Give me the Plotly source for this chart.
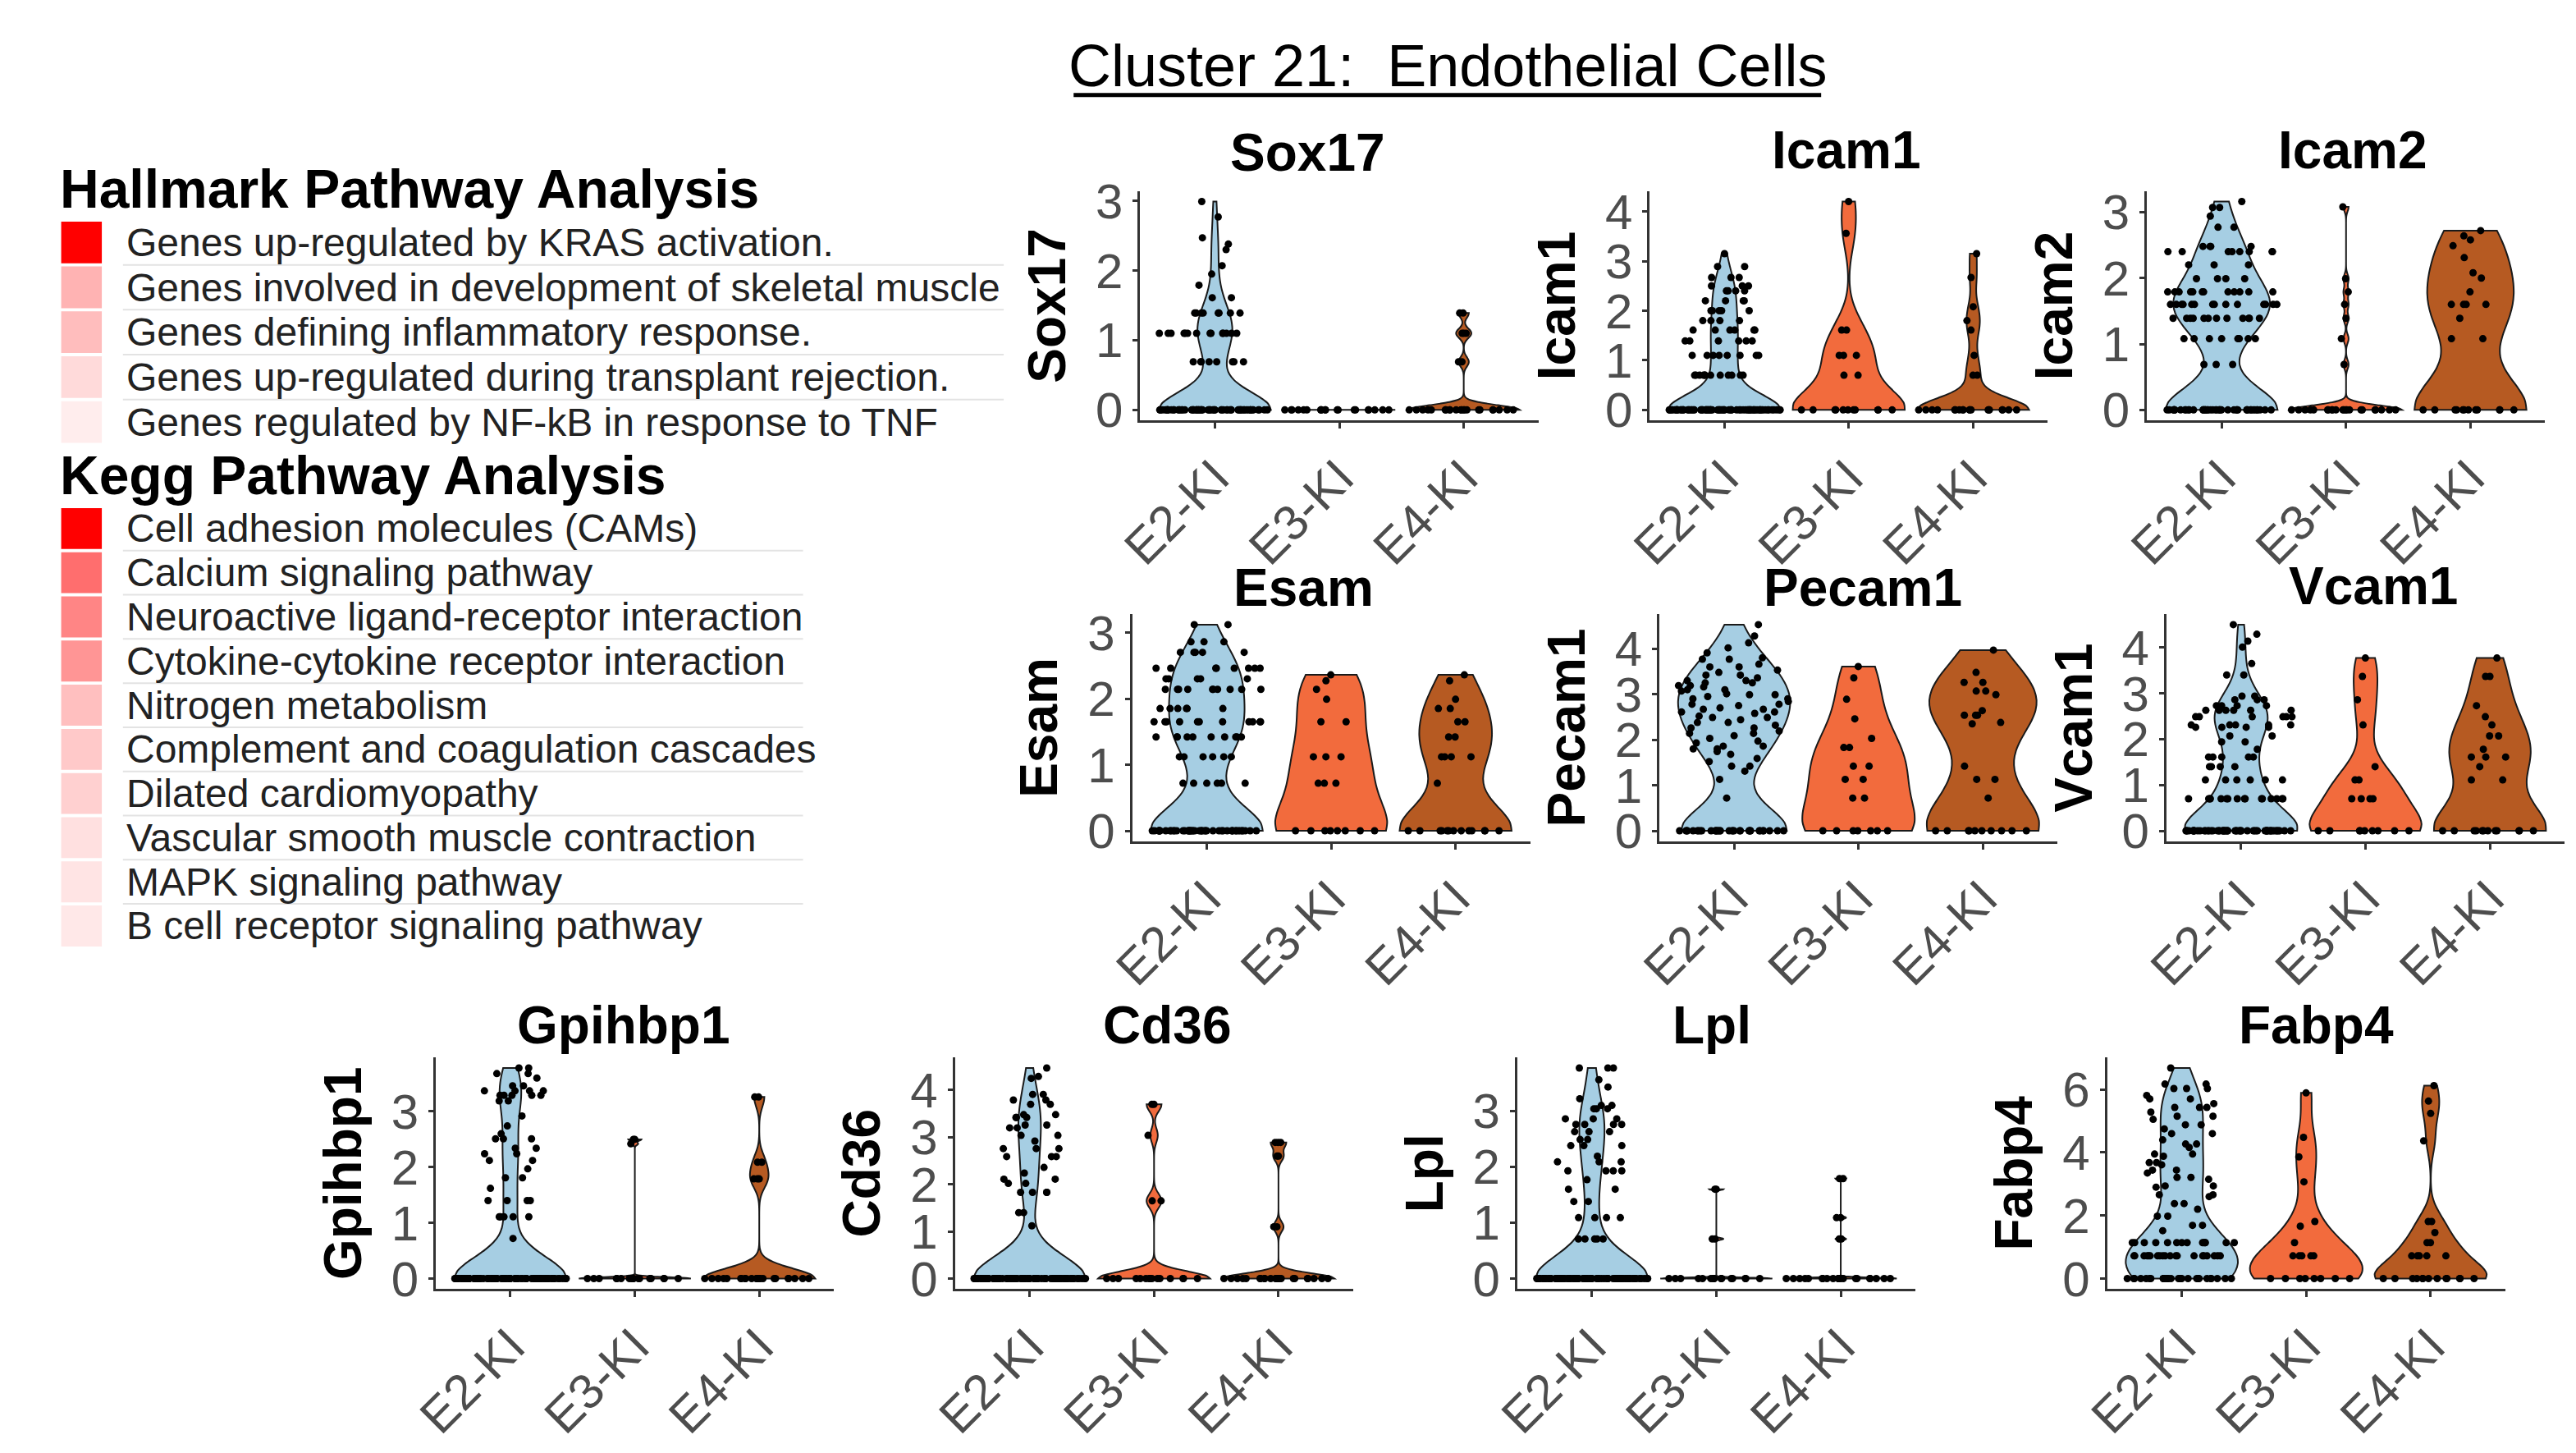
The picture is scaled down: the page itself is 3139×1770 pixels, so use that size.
import numpy as np
import plotly.graph_objects as go

W, H = 3139, 1770
FONT = "Liberation Sans, Arial, sans-serif"

GROUPS = ["E2-KI", "E3-KI", "E4-KI"]
GROUP_COLORS = ["#a6cee3", "#f26b3d", "#b65a22"]

# expression per cell, written as (value, number of cells)
SOX17_E2 = [(0, 68), (0.69, 8), (1.1, 14), (1.39, 8), (1.61, 2), (1.79, 1), (1.95, 1),
            (2.07, 1), (2.3, 1), (2.38, 1), (2.47, 1), (2.77, 1), (2.99, 1)]
SOX17_E3 = [(0, 20)]
SOX17_E4 = [(0, 22), (0.69, 2), (1.1, 3), (1.39, 2)]

ICAM1_E2 = [(0, 80), (0.7, 12), (1.1, 8), (1.39, 6), (1.61, 6), (1.8, 4), (2.0, 5),
            (2.2, 4), (2.4, 4), (2.5, 3), (2.67, 3), (2.89, 2), (3.15, 1)]
ICAM1_E3 = [(0, 11), (0.7, 2), (1.1, 3), (1.61, 2), (3.56, 1), (4.2, 1)]
ICAM1_E4 = [(0, 19), (0.7, 2), (1.1, 1), (1.61, 1), (1.8, 1), (2.08, 1), (2.67, 1), (3.15, 1)]

ICAM2_E2 = [(0, 46), (0.69, 3), (1.08, 8), (1.39, 12), (1.6, 14), (1.79, 12), (1.99, 4),
            (2.2, 3), (2.4, 8), (2.48, 4), (2.77, 2), (2.94, 1), (3.07, 2), (3.16, 1)]
ICAM2_E3 = [(0, 22), (0.69, 1), (1.08, 1), (1.39, 1), (1.6, 1), (1.79, 1), (1.99, 1), (3.08, 1)]
ICAM2_E4 = [(0, 12), (1.08, 2), (1.39, 1), (1.6, 4), (1.79, 1), (2.0, 1), (2.08, 1),
            (2.31, 1), (2.49, 1), (2.58, 1), (2.64, 1), (2.72, 1)]

ESAM_E2 = [(0, 48), (0.72, 6), (1.12, 6), (1.42, 10), (1.65, 11), (1.85, 6), (2.14, 10),
           (2.3, 5), (2.46, 8), (2.7, 5), (2.86, 3), (3.12, 2)]
ESAM_E3 = [(0, 8), (0.72, 3), (1.12, 3), (1.65, 2), (1.99, 1), (2.14, 1), (2.27, 1), (2.36, 1)]
ESAM_E4 = [(0, 13), (0.72, 1), (1.12, 4), (1.42, 2), (1.65, 2), (1.85, 2), (1.99, 1),
           (2.27, 1), (2.36, 1)]

PECAM1_E2 = [(0, 34), (0.72, 1), (1.13, 1), (1.31, 1), (1.42, 2), (1.52, 1), (1.59, 1),
             (1.68, 1), (1.74, 1), (1.8, 2), (1.86, 2), (1.93, 1), (1.97, 1), (2.03, 1),
             (2.09, 1), (2.14, 2), (2.19, 1), (2.26, 2), (2.32, 1), (2.38, 2), (2.44, 1),
             (2.49, 2), (2.52, 1), (2.58, 1), (2.61, 2), (2.67, 2), (2.7, 1), (2.75, 1),
             (2.78, 2), (2.84, 1), (2.9, 2), (2.95, 1), (2.99, 2), (3.01, 1), (3.07, 1),
             (3.1, 2), (3.16, 1), (3.19, 2), (3.25, 2), (3.3, 2), (3.36, 1), (3.42, 2),
             (3.48, 1), (3.53, 1), (3.6, 2), (3.66, 1), (3.77, 2), (3.8, 1), (3.91, 1),
             (4.02, 1), (4.13, 1), (4.28, 1), (4.53, 1)]
PECAM1_E3 = [(0, 7), (0.72, 2), (1.13, 2), (1.42, 2), (1.83, 2), (2.03, 1), (2.46, 1),
             (2.89, 1), (3.36, 1), (3.61, 1)]
PECAM1_E4 = [(0, 10), (0.72, 1), (1.13, 2), (1.42, 1), (2.35, 1), (2.38, 1), (2.54, 3),
             (2.64, 1), (2.99, 1), (3.07, 2), (3.26, 2), (3.48, 1), (3.97, 1)]

VCAM1_E2 = [(0, 58), (0.7, 16), (1.11, 6), (1.4, 4), (1.61, 5), (1.78, 1), (1.94, 2),
            (2.07, 2), (2.26, 4), (2.31, 5), (2.49, 6), (2.63, 6), (2.73, 4), (2.86, 3),
            (2.94, 2), (3.4, 2), (3.65, 1), (4.01, 1), (4.14, 1), (4.29, 1), (4.5, 1)]
VCAM1_E3 = [(0, 9), (0.7, 4), (1.11, 2), (1.4, 1), (2.31, 1), (2.86, 1), (3.37, 1), (3.77, 1)]
VCAM1_E4 = [(0, 12), (1.11, 2), (1.4, 1), (1.61, 3), (1.78, 1), (2.07, 2), (2.31, 1),
            (2.49, 1), (2.73, 1), (3.37, 2), (3.77, 1)]

GPIHBP1_E2 = [(0, 90), (0.72, 1), (1.11, 5), (1.4, 4), (1.62, 1), (1.81, 2), (1.97, 1),
              (2.12, 2), (2.24, 2), (2.34, 2), (2.51, 3), (2.6, 1), (2.74, 1), (2.92, 1),
              (3.19, 2), (3.29, 5), (3.37, 4), (3.46, 2), (3.6, 1), (3.68, 2), (3.78, 2)]
GPIHBP1_E3 = [(0, 17), (2.42, 1), (2.5, 2)]
GPIHBP1_E4 = [(0, 22), (1.79, 3), (2.09, 2), (3.26, 2)]

CD36_E2 = [(0, 90), (1.12, 1), (1.4, 2), (1.83, 4), (2.02, 2), (2.11, 2), (2.24, 1),
           (2.36, 1), (2.59, 3), (2.76, 3), (2.92, 1), (3.04, 2), (3.2, 2), (3.26, 2),
           (3.42, 3), (3.48, 2), (3.7, 2), (3.79, 2), (3.91, 2), (4.25, 1), (4.29, 1), (4.47, 1)]
CD36_E3 = [(0, 15), (1.65, 2), (3.04, 1), (3.7, 2)]
CD36_E4 = [(0, 22), (1.1, 2), (2.6, 2), (2.89, 3)]

LPL_E2 = [(0, 88), (0.71, 5), (1.09, 4), (1.38, 2), (1.6, 2), (1.77, 1), (1.93, 4),
          (2.09, 3), (2.19, 1), (2.38, 3), (2.49, 2), (2.63, 3), (2.76, 4), (2.86, 3),
          (3.04, 3), (3.1, 2), (3.22, 1), (3.43, 1), (3.56, 1), (3.77, 3)]
LPL_E3 = [(0, 16), (0.71, 2), (1.6, 2)]
LPL_E4 = [(0, 21), (0.71, 2), (1.09, 2), (1.79, 2)]

FABP4_E2 = [(0, 28), (0.72, 20), (1.14, 14), (1.52, 1), (1.69, 2), (1.98, 2), (2.2, 1),
            (2.38, 2), (2.6, 1), (2.66, 2), (2.9, 1), (2.94, 2), (3.15, 1), (3.21, 2),
            (3.35, 1), (3.44, 2), (3.61, 1), (3.68, 2), (3.88, 1), (3.95, 2), (4.16, 1),
            (4.27, 2), (4.4, 1), (4.6, 2), (4.75, 1), (4.88, 2), (5.05, 1), (5.15, 2),
            (5.28, 1), (5.43, 3), (5.55, 1), (5.7, 2), (5.81, 1), (6.03, 3), (6.17, 2),
            (6.68, 1)]
FABP4_E3 = [(0, 8), (0.72, 5), (1.14, 1), (1.66, 1), (1.81, 1), (3.07, 1), (3.86, 1),
            (4.48, 1), (5.89, 1)]
FABP4_E4 = [(0, 13), (0.72, 5), (1.14, 2), (1.46, 1), (1.81, 2), (4.37, 1), (5.24, 1),
            (5.63, 1), (6.12, 1)]

EXPR = {
    "Sox17": [SOX17_E2, SOX17_E3, SOX17_E4],
    "Icam1": [ICAM1_E2, ICAM1_E3, ICAM1_E4],
    "Icam2": [ICAM2_E2, ICAM2_E3, ICAM2_E4],
    "Esam": [ESAM_E2, ESAM_E3, ESAM_E4],
    "Pecam1": [PECAM1_E2, PECAM1_E3, PECAM1_E4],
    "Vcam1": [VCAM1_E2, VCAM1_E3, VCAM1_E4],
    "Gpihbp1": [GPIHBP1_E2, GPIHBP1_E3, GPIHBP1_E4],
    "Cd36": [CD36_E2, CD36_E3, CD36_E4],
    "Lpl": [LPL_E2, LPL_E3, LPL_E4],
    "Fabp4": [FABP4_E2, FABP4_E3, FABP4_E4],
}

HALLMARK_TERMS = [
    "Genes up-regulated by KRAS activation.",
    "Genes involved in development of skeletal muscle",
    "Genes defining inflammatory response.",
    "Genes up-regulated during transplant rejection.",
    "Genes regulated by NF-kB in response to TNF",
]
HALLMARK_COLORS = ["#ff0000", "#ffb3b3", "#ffbdbd", "#ffdada", "#ffeded"]

KEGG_TERMS = [
    "Cell adhesion molecules (CAMs)",
    "Calcium signaling pathway",
    "Neuroactive ligand-receptor interaction",
    "Cytokine-cytokine receptor interaction",
    "Nitrogen metabolism",
    "Complement and coagulation cascades",
    "Dilated cardiomyopathy",
    "Vascular smooth muscle contraction",
    "MAPK signaling pathway",
    "B cell receptor signaling pathway",
]
KEGG_COLORS = ["#ff0000", "#ff6e6e", "#ff8585", "#ff9595", "#ffbfbf",
               "#ffc9c9", "#ffd0d0", "#ffe0e0", "#ffe4e4", "#ffe8e8"]

# panel placement in pixels: gene, axis left, axis top, axis bottom, title centre x, title centre y, y tick step
PANELS = [
    ("Sox17", 1372, 217, 503, 1578, 169, 1),
    ("Icam1", 1999, 217, 503, 2241, 166, 1),
    ("Icam2", 2611, 217, 503, 2864, 166, 1),
    ("Esam", 1362, 745, 1028, 1573, 712, 1),
    ("Pecam1", 2011, 745, 1028, 2261, 712, 1),
    ("Vcam1", 2635, 745, 1028, 2890, 710, 1),
    ("Gpihbp1", 505, 1298, 1587, 736, 1258, 1),
    ("Cd36", 1144, 1298, 1587, 1405, 1258, 1),
    ("Lpl", 1836, 1298, 1587, 2076, 1258, 1),
    ("Fabp4", 2562, 1298, 1587, 2819, 1258, 2),
]
PW = 490


def px(x):
    return x / W


def py(y):
    return 1 - y / H


def expand(pairs):
    return np.repeat([v for v, c in pairs], [c for v, c in pairs])


def nrd0(vals):
    # R's default bandwidth; None lets plotly fall back to its own rule
    q1, q3 = np.percentile(vals, [25, 75])
    if q3 - q1 <= 0:
        return None
    lo = min(np.std(vals, ddof=1), (q3 - q1) / 1.34)
    return 0.9 * lo * len(vals) ** -0.2


fig = go.Figure()
layout = {}
tickfont = dict(family=FONT, size=60, color="#4d4d4d")

for i, (gene, left, top, bottom, tx, ty, step) in enumerate(PANELS):
    n = "" if i == 0 else str(i + 1)
    ymax = max(max(v for v, c in g) for g in EXPR[gene])
    for grp, pairs, col in zip(GROUPS, EXPR[gene], GROUP_COLORS):
        vals = expand(pairs)
        fig.add_trace(go.Violin(
            x=[grp] * len(vals), y=vals, xaxis="x" + n, yaxis="y" + n,
            fillcolor=col, opacity=1, line=dict(color="#1a1a1a", width=2),
            points="all", pointpos=0, jitter=1,
            marker=dict(color="black", size=9, line=dict(width=0)),
            spanmode="hard", scalemode="width", width=0.9,
            bandwidth=nrd0(vals), hoverinfo="skip", showlegend=False,
        ))
    layout["xaxis" + n] = dict(
        domain=[px(left), px(left + PW)], anchor="y" + n,
        type="category", categoryorder="array", categoryarray=GROUPS,
        range=[-0.6, 2.6], showline=True, linecolor="#333333", linewidth=3,
        ticks="outside", ticklen=7, tickwidth=3, tickcolor="#333333",
        tickangle=-45, tickfont=tickfont,
        showgrid=False, zeroline=False, fixedrange=True,
    )
    layout["yaxis" + n] = dict(
        domain=[py(bottom), py(top)], anchor="x" + n,
        range=[-0.05 * ymax, 1.05 * ymax], tickmode="linear", tick0=0, dtick=step,
        showline=True, linecolor="#333333", linewidth=3,
        ticks="outside", ticklen=6, tickwidth=3, tickcolor="#333333",
        tickfont=tickfont,
        title=dict(text="<b>%s</b>" % gene, font=dict(family=FONT, size=64, color="black"),
                   standoff=16),
        showgrid=False, zeroline=False, fixedrange=True,
    )
    fig.add_annotation(text="<b>%s</b>" % gene, x=px(tx), y=py(ty), xref="paper", yref="paper",
                       showarrow=False, xanchor="center", yanchor="middle",
                       font=dict(family=FONT, size=64, color="black"))

shapes = []

# main title with underline
fig.add_annotation(text="Cluster 21:  Endothelial Cells", x=px(1750), y=py(60),
                   xref="paper", yref="paper", showarrow=False, xanchor="center",
                   yanchor="middle", font=dict(family=FONT, size=72, color="black"))
shapes.append(dict(type="line", xref="paper", yref="paper", x0=px(1290), x1=px(2210),
                   y0=py(97), y1=py(97), line=dict(color="black", width=5)))


def pathway_block(title, title_y, terms, colors, row0, step, line_end):
    fig.add_annotation(text="<b>%s</b>" % title, x=px(40), y=py(title_y), xref="paper",
                       yref="paper", showarrow=False, xanchor="left", yanchor="middle",
                       font=dict(family=FONT, size=66, color="black"))
    for k, (term, col) in enumerate(zip(terms, colors)):
        yc = row0 + step * k
        shapes.append(dict(type="rect", xref="paper", yref="paper", x0=px(44), x1=px(94),
                           y0=py(yc + step / 2 - 2), y1=py(yc - step / 2 + 2),
                           fillcolor=col, line=dict(width=0), layer="below"))
        if k < len(terms) - 1:
            shapes.append(dict(type="line", xref="paper", yref="paper", x0=px(120),
                               x1=px(line_end), y0=py(yc + step / 2), y1=py(yc + step / 2),
                               line=dict(color="#e3e3e3", width=2), layer="below"))
        fig.add_annotation(text=term, x=px(123), y=py(yc), xref="paper", yref="paper",
                           showarrow=False, xanchor="left", yanchor="middle", borderpad=0,
                           font=dict(family=FONT, size=48, color="#222222"))


pathway_block("Hallmark Pathway Analysis", 214, HALLMARK_TERMS, HALLMARK_COLORS, 281, 56, 1204)
pathway_block("Kegg Pathway Analysis", 572, KEGG_TERMS, KEGG_COLORS, 638, 55.1, 957)

fig.update_layout(
    width=W, height=H, margin=dict(l=0, r=0, t=0, b=0),
    paper_bgcolor="white", plot_bgcolor="white",
    violinmode="overlay", shapes=shapes, **layout,
)

fig.write_html("out.html", config={"displayModeBar": False},
               post_script="document.body.style.margin='0';")
